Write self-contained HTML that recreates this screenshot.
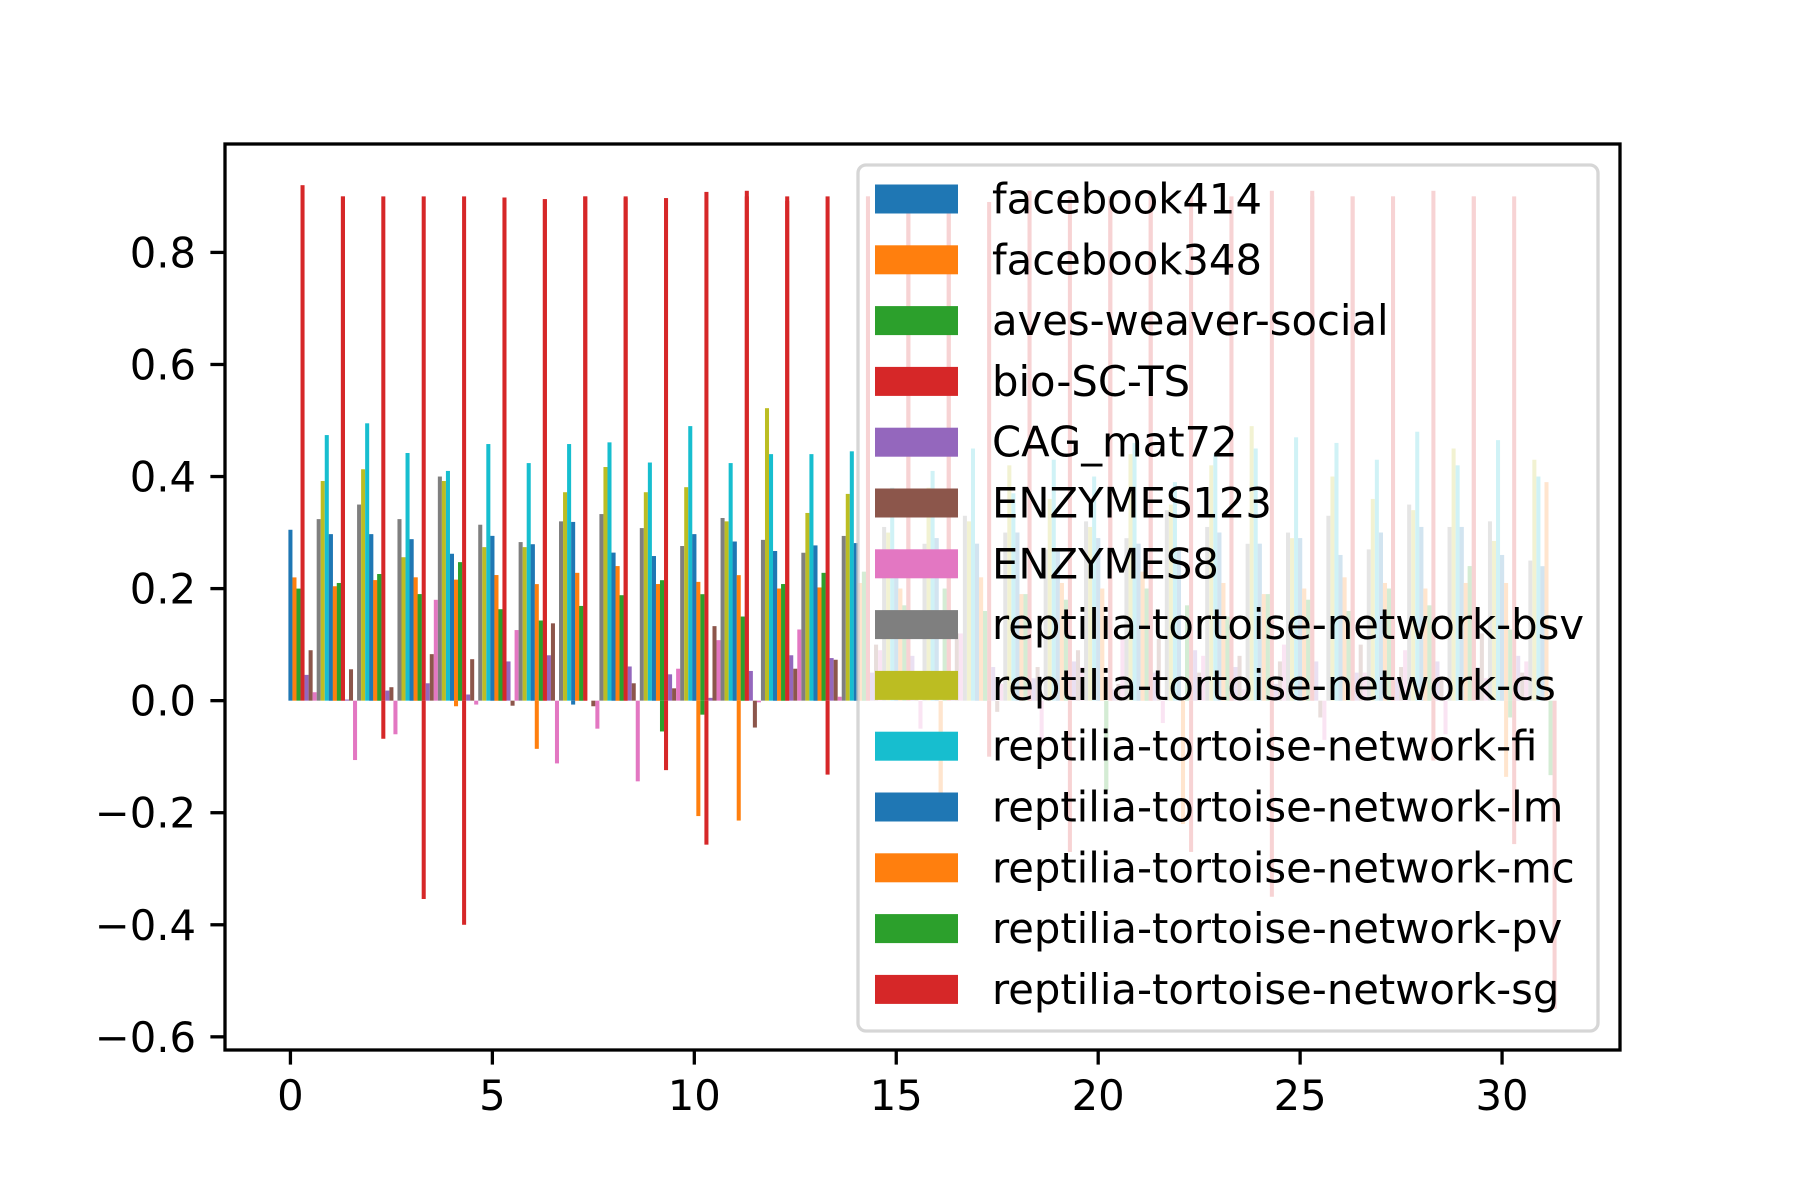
<!DOCTYPE html>
<html><head><meta charset="utf-8"><style>
html,body{margin:0;padding:0;background:#fff;}
svg{display:block;font-family:"DejaVu Sans","Liberation Sans",sans-serif;}
</style></head><body>
<svg id="chart" width="1800" height="1200" viewBox="0 0 1800 1200" xmlns="http://www.w3.org/2000/svg">
<rect x="0" y="0" width="1800" height="1200" fill="#fff"/>
<g id="bars"></g>
<g id="axes"></g>
<g id="legend"></g>
</svg>
<script>
const seriesNames = ["facebook414","facebook348","aves-weaver-social","bio-SC-TS","CAG_mat72","ENZYMES123","ENZYMES8","reptilia-tortoise-network-bsv","reptilia-tortoise-network-cs","reptilia-tortoise-network-fi","reptilia-tortoise-network-lm","reptilia-tortoise-network-mc","reptilia-tortoise-network-pv","reptilia-tortoise-network-sg"];
const fb414 = [.305,.297,.297,.288,.262,.294,.279,-.007,.264,.258,.297,.284,.267,.277,.281,.27,.29,.28,.3,.27,.29,.28,.27,.3,.28,.29,.26,.3,.31,.31,.26];
const fb348 = [.22,.204,.215,.22,-.01,.224,-.086,.228,.24,.208,-.206,-.214,.2,.202,.21,.2,-.18,.22,.19,.21,.2,.23,-.22,.21,.19,.2,.22,.21,.2,.21,-.136];
const aves = [.2,.21,.226,.19,.247,.163,.143,.169,.188,-.055,-.025,.15,.208,.228,.23,.17,.2,.16,.19,.18,-.16,.2,.17,.15,.19,.18,.16,.2,.17,.24,-.03];
const bio = [.92,.90,.90,.90,.90,.898,.895,.90,.897,.897,.908,.91,.892,.90,.9,.91,.9,.89,.91,.9,.9,.91,.9,.89,.91,.91,.9,.9,.91,.9,.9];
const cag = [.046,.002,.018,.031,.011,.07,.081,0,.061,.047,.005,.053,.081,.076,.05,.08,.03,.06,.04,.07,.02,.05,.09,.06,.03,.07,.05,.04,.07,.06,.08];
const enz123 = [.09,.056,.024,.083,.074,-.009,.138,-.01,.031,.022,.133,-.048,.057,.073,.1,.04,.12,-.02,.06,.09,.03,.11,.05,.08,.07,-.03,.1,.06,.04,.12,.05];
const enz8 = [.015,-.106,-.06,.18,-.007,.126,-.112,-.05,-.144,.057,.108,-.003,.127,.007,.09,-.05,.12,.03,-.08,.06,.11,-.04,.08,.02,.1,-.07,.05,.09,-.06,.04,.07];
const bsv = [.324,.35,.324,.40,.314,.283,.32,.333,.308,.276,.326,.287,.264,.294,.31,.28,.33,.3,.27,.32,.29,.34,.31,.28,.3,.33,.27,.35,.31,.32,.25];
const cs = [.392,.413,.256,.392,.274,.274,.372,.417,.372,.381,.32,.522,.335,.369,.3,.38,.32,.42,.36,.31,.44,.35,.42,.49,.29,.4,.36,.34,.45,.285,.43];
const fi = [.474,.495,.442,.41,.458,.424,.458,.461,.425,.49,.424,.44,.44,.445,.38,.41,.45,.37,.43,.4,.46,.39,.44,.45,.47,.46,.43,.48,.42,.465,.40];
const lm = [.297,.297,.288,.262,.294,.279,.319,.264,.258,.297,.284,.267,.277,.281,.27,.29,.28,.3,.27,.29,.28,.27,.3,.28,.29,.26,.3,.31,.31,.26,.24];
const mc = [.204,.215,.22,.216,.224,.208,.228,.24,.208,.212,.224,.2,.202,.21,.2,-.18,.22,.19,.21,.2,.23,-.22,.21,.19,.2,.22,.21,.2,.21,.21,.39];
const pv = [.21,.226,.19,.247,.163,.143,.169,.188,.215,.19,.15,.208,.228,.23,.17,.2,.16,.19,.18,-.16,.2,.17,.15,.19,.18,.16,.2,.17,.24,.127,-.133];
const sg = [.90,-.068,-.354,-.40,.898,.895,.9,.9,-.124,-.257,.9,.9,-.132,.9,.9,.9,-.1,.9,-.27,.9,.9,-.27,.9,-.35,.9,.9,.9,-.107,.9,-.256,-.55];
const xTickLabels = ["0","5","10","15","20","25","30"];
const yTickLabels = ["\u22120.6","\u22120.4","\u22120.2","0.0","0.2","0.4","0.6","0.8"];

const allSeries = [fb414,fb348,aves,bio,cag,enz123,enz8,bsv,cs,fi,lm,mc,pv,sg];
const colors = ["#1f77b4","#ff7f0e","#2ca02c","#d62728","#9467bd","#8c564b","#e377c2","#7f7f7f","#bcbd22","#17becf"];
const W = 0.1;
const AX = {l:225, r:1620, t:144, b:1050};
const NS = "http://www.w3.org/2000/svg";

let xmin=Infinity,xmax=-Infinity,ymin=0,ymax=0;
allSeries.forEach((s,k)=>s.forEach((v,i)=>{
  const c=i+k*W; xmin=Math.min(xmin,c-W/2); xmax=Math.max(xmax,c+W/2);
  ymin=Math.min(ymin,v); ymax=Math.max(ymax,v);
}));
const xm=(xmax-xmin)*0.05, ym=(ymax-ymin)*0.05;
const X0=xmin-xm, X1=xmax+xm, Y0=ymin-ym, Y1=ymax+ym;
const xs = v => AX.l + (v-X0)/(X1-X0)*(AX.r-AX.l);
const ys = v => AX.b - (v-Y0)/(Y1-Y0)*(AX.b-AX.t);

function mk(tag, attrs, parent){
  const e=document.createElementNS(NS,tag);
  for(const a in attrs) e.setAttribute(a,attrs[a]);
  parent.appendChild(e); return e;
}
const gBars=document.getElementById('bars');
allSeries.forEach((s,k)=>{
  s.forEach((v,i)=>{
    const c=i+k*W;
    const x0=xs(c-W/2), x1=xs(c+W/2);
    const y0=ys(Math.max(v,0)), y1=ys(Math.min(v,0));
    const r=mk('rect',{x:x0,y:y0,width:x1-x0,height:Math.max(y1-y0,0),fill:colors[k%10]},gBars);
    
    
  });
});

const gAx=document.getElementById('axes');
xTickLabels.forEach(t=>{
  const v=parseFloat(t), x=xs(v);
  const l=mk('line',{x1:x,x2:x,y1:AX.b,y2:AX.b+14.6,stroke:'#000','stroke-width':3.3},gAx);
  
  
  const tx=mk('text',{x:x,y:AX.b+60,'text-anchor':'middle','font-size':41.7,fill:'#000'},gAx);
  tx.textContent=t;
  
  
});
yTickLabels.forEach(t=>{
  const v=parseFloat(t.replace('\u2212','-')), y=ys(v);
  const l=mk('line',{x1:AX.l-14.6,x2:AX.l,y1:y,y2:y,stroke:'#000','stroke-width':3.3},gAx);
  
  
  const tx=mk('text',{x:AX.l-29,y:y+15,'text-anchor':'end','font-size':41.7,fill:'#000'},gAx);
  tx.textContent=t;
  
  
});
const sp=mk('rect',{x:AX.l,y:AX.t,width:AX.r-AX.l,height:AX.b-AX.t,fill:'none',stroke:'#000','stroke-width':3.3},gAx);



const gL=document.getElementById('legend');
const LG={l:858,t:165,r:1598,b:1031};
const fr=mk('rect',{x:LG.l,y:LG.t,width:LG.r-LG.l,height:LG.b-LG.t,rx:8,ry:8,fill:'#fff','fill-opacity':0.8,stroke:'#cccccc','stroke-opacity':0.8,'stroke-width':3.3},gL);


seriesNames.forEach((n,k)=>{
  const cy=199+k*60.8;
  const p=mk('rect',{x:875,y:cy-14.5,width:83,height:29,fill:colors[k%10]},gL);
  
  
  const t=mk('text',{x:992,y:cy+14.5,'font-size':41.7,fill:'#000'},gL);
  t.textContent=n;
  
  
});
</script>
</body></html>
